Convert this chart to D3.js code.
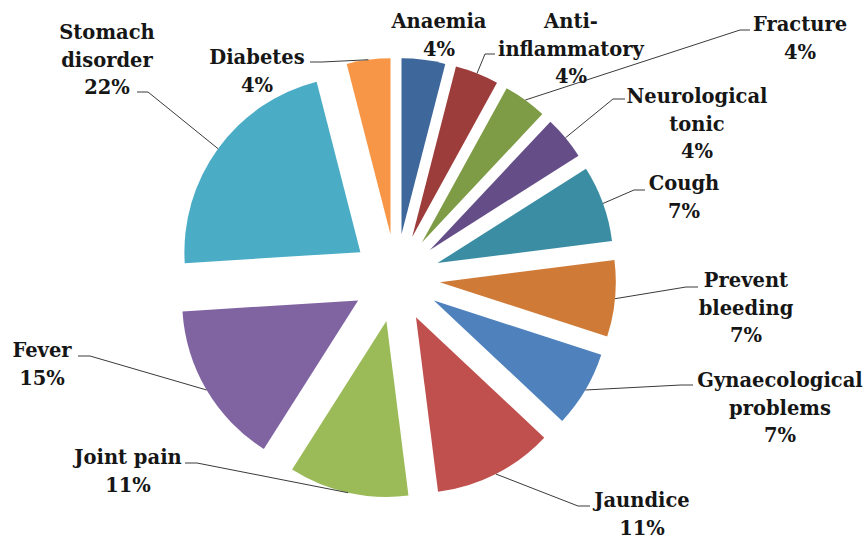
<!DOCTYPE html>
<html>
<head>
<meta charset="utf-8">
<script src="https://cdn.jsdelivr.net/npm/d3@7/dist/d3.min.js"></script>
<style>
  html, body { margin: 0; padding: 0; background: #ffffff; }
  svg { display: block; }
  text { font-family: "DejaVu Serif", "Liberation Serif", serif; font-weight: bold; fill: #161616; }
</style>
</head>
<body>
<svg id="chart" width="866" height="542"></svg>
<script>
// Uses of medicinal plants, share of citations (%), clockwise from 12 o'clock
const categories = ["Anaemia", "Anti-inflammatory", "Fracture", "Neurological tonic", "Cough",
  "Prevent bleeding", "Gynaecological problems", "Jaundice", "Joint pain", "Fever",
  "Stomach disorder", "Diabetes"];
const percents = [4, 4, 4, 4, 7, 7, 7, 11, 11, 15, 22, 4];
const colors = ["#3e679b", "#9d3d3b", "#7e9b45", "#654e87", "#3a8da3", "#cf7b37",
  "#4f81bd", "#c0504d", "#9bbb59", "#8064a2", "#4bacc6", "#f79646"];
// Label text split into lines
const labelLines = [["Anaemia"], ["Anti-", "inflammatory"], ["Fracture"], ["Neurological", "tonic"],
  ["Cough"], ["Prevent", "bleeding"], ["Gynaecological", "problems"], ["Jaundice"],
  ["Joint pain"], ["Fever"], ["Stomach", "disorder"], ["Diabetes"]];

// Label placement: centre x, first line centre y, and leader elbow (null = no leader)
const labelPos = [
  { x: 439, y: 21, elbow: null },
  { x: 571, y: 21, elbow: [[495, 54], [485, 54]] },
  { x: 800, y: 24, elbow: [[750, 30], [740, 30]] },
  { x: 697, y: 96, elbow: [[625, 99], [613, 99]] },
  { x: 684, y: 183, elbow: [[645, 190], [634, 190]] },
  { x: 746, y: 280, elbow: [[698, 287], [686, 287]] },
  { x: 780, y: 380, elbow: [[693, 385], [681, 385]] },
  { x: 642, y: 500, elbow: [[590, 506], [578, 506]] },
  { x: 128, y: 457, elbow: [[185, 463], [197, 463]] },
  { x: 42, y: 350, elbow: [[78, 356], [90, 356]] },
  { x: 107, y: 32, elbow: [[137, 92], [148, 92]] },
  { x: 257, y: 57, elbow: [[310, 62], [322, 62]] }
];

const width = 866, height = 542;
const cx = 396, cy = 278;
const radius = 176;
const explode = 44;
const lineGap = 27.5;

const svg = d3.select("#chart");

const data = categories.map((c, i) => ({ name: c, value: percents[i], color: colors[i], lines: labelLines[i], pos: labelPos[i] }));

const pie = d3.pie().sort(null).value(d => d.value).startAngle(0).endAngle(2 * Math.PI);
const arcs = pie(data);
const arc = d3.arc().innerRadius(0).outerRadius(radius);

const g = svg.append("g").attr("transform", `translate(${cx},${cy})`);

// Exploded slices: each slice shifted outward along its mid-angle
g.selectAll("path.slice")
  .data(arcs)
  .join("path")
  .attr("class", "slice")
  .attr("d", arc)
  .attr("fill", d => d.data.color)
  .attr("transform", d => {
    const a = (d.startAngle + d.endAngle) / 2;
    return `translate(${explode * Math.sin(a)},${-explode * Math.cos(a)})`;
  });

// Leader lines from the label elbow to the slice's outer arc at mid-angle
const leaders = svg.append("g");
arcs.forEach(d => {
  const p = d.data.pos;
  if (!p.elbow) return;
  const a = (d.startAngle + d.endAngle) / 2;
  const ex = cx + (explode + radius) * Math.sin(a);
  const ey = cy - (explode + radius) * Math.cos(a);
  const pts = p.elbow.concat([[ex, ey]]);
  leaders.append("path")
    .attr("d", d3.line()(pts))
    .attr("fill", "none")
    .attr("stroke", "#3a3a3a")
    .attr("stroke-width", 1);
});

// Category labels with percentages
const labels = svg.append("g");
arcs.forEach(d => {
  const p = d.data.pos;
  const lines = d.data.lines.concat([d.data.value + "%"]);
  const t = labels.append("text")
    .attr("text-anchor", "middle")
    .attr("font-size", 19.5);
  lines.forEach((ln, i) => {
    t.append("tspan")
      .attr("x", p.x)
      .attr("y", p.y + i * lineGap)
      .attr("dy", "0.36em")
      .text(ln);
  });
});
</script>
</body>
</html>
